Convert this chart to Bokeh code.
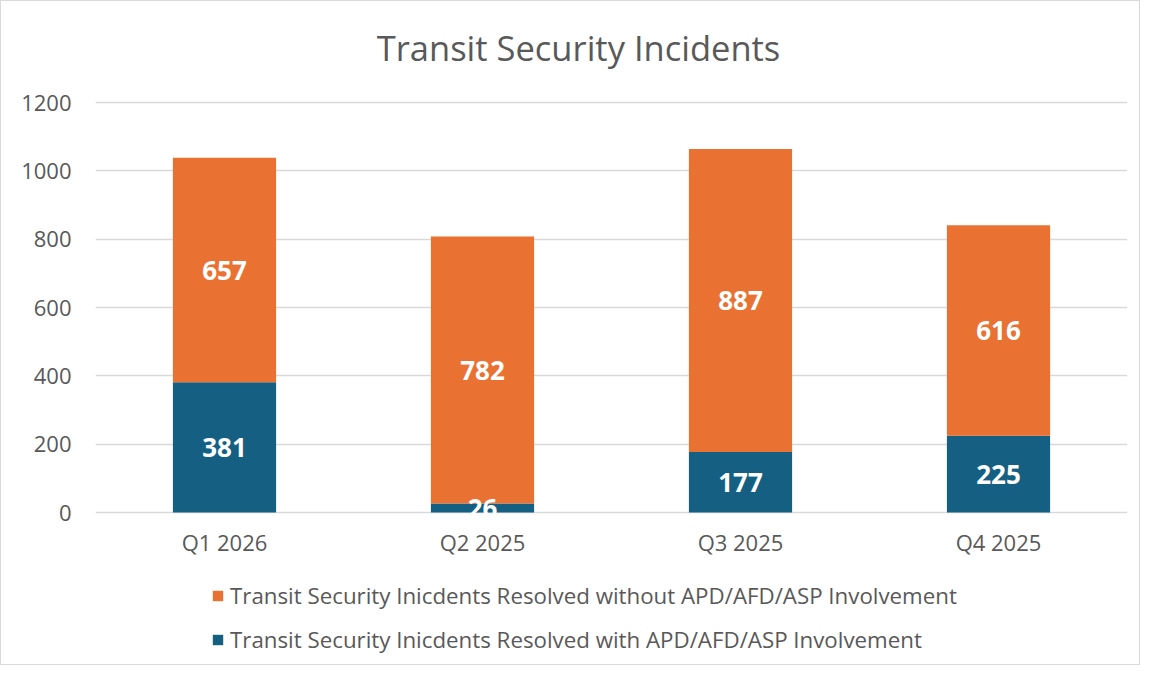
from bokeh.plotting import figure
from bokeh.models import ColumnDataSource, Legend, LegendItem, FixedTicker, Range1d, Label
from bokeh.core.properties import value
from bokeh.embed import file_html
from bokeh.resources import INLINE

quarters = ["Q1 2026", "Q2 2025", "Q3 2025", "Q4 2025"]
with_apd = [381, 26, 177, 225]
without_apd = [657, 782, 887, 616]
y_ticks = [0, 200, 400, 600, 800, 1000, 1200]
title_text = "Transit Security Incidents"
name_without = "Transit Security Inicdents Resolved without APD/AFD/ASP Involvement"
name_with = "Transit Security Inicdents Resolved with APD/AFD/ASP Involvement"

ORANGE = "#E97132"
BLUE = "#156082"
GREY = "#595959"
GRID = "#D9D9D9"
FONT = "Open Sans"

src = ColumnDataSource(dict(
    q=quarters,
    w=with_apd,
    wo=without_apd,
    w_mid=[a / 2 for a in with_apd],
    wo_mid=[a + b / 2 for a, b in zip(with_apd, without_apd)],
    w_txt=[str(a) for a in with_apd],
    wo_txt=[str(b) for b in without_apd],
))

# value axis 0..1200 spans 410px; the frame also holds the title above and labels/legend below
y_max = 1200
y_top = y_max * 511 / 410
y_min = -y_max * 154 / 410

p = figure(x_range=quarters, y_range=Range1d(y_min, y_top), width=1140, height=665,
           output_backend="svg", toolbar_location=None,
           min_border_left=94, min_border_right=14, min_border_top=0, min_border_bottom=0)
p.styles = {"border": "1px solid #D9D9D9"}

p.add_layout(Label(x=483, y=619, x_units="screen", y_units="screen", text=title_text,
                   text_font=FONT, text_font_size="34.5px", text_color=GREY,
                   text_align="center", text_baseline="middle"))

rs = p.vbar_stack(["w", "wo"], x="q", width=0.4, color=[BLUE, ORANGE], source=src,
                  line_color=None)

p.text(x="q", y="w_mid", text="w_txt", source=src, text_color="white",
       text_font=value(FONT), text_font_style="bold", text_font_size="26px",
       text_align="center", text_baseline="middle")
p.text(x="q", y="wo_mid", text="wo_txt", source=src, text_color="white",
       text_font=value(FONT), text_font_style="bold", text_font_size="26px",
       text_align="center", text_baseline="middle")

p.outline_line_color = None
p.xgrid.grid_line_color = None
p.ygrid.grid_line_color = GRID
p.ygrid.grid_line_width = 1.5
p.yaxis.ticker = FixedTicker(ticks=y_ticks)
p.xaxis.fixed_location = 0
for ax in (p.xaxis, p.yaxis):
    ax.axis_line_color = None
    ax.major_tick_line_color = None
    ax.minor_tick_line_color = None
    ax.major_label_text_font = FONT
    ax.major_label_text_font_size = "22px"
    ax.major_label_text_color = GREY
p.xaxis.major_label_standoff = 8
p.yaxis.major_label_standoff = 18

legend = Legend(items=[LegendItem(label=name_without, renderers=[rs[1]]),
                       LegendItem(label=name_with, renderers=[rs[0]])],
                location=(116, 11), orientation="vertical",
                label_text_font=FONT, label_text_font_size="22.3px", label_text_color=GREY,
                glyph_width=13, glyph_height=13, spacing=13, padding=0, margin=0,
                label_standoff=6, border_line_color=None, background_fill_alpha=0)
p.add_layout(legend, "center")

open("out.html", "w").write(file_html(p, INLINE))
